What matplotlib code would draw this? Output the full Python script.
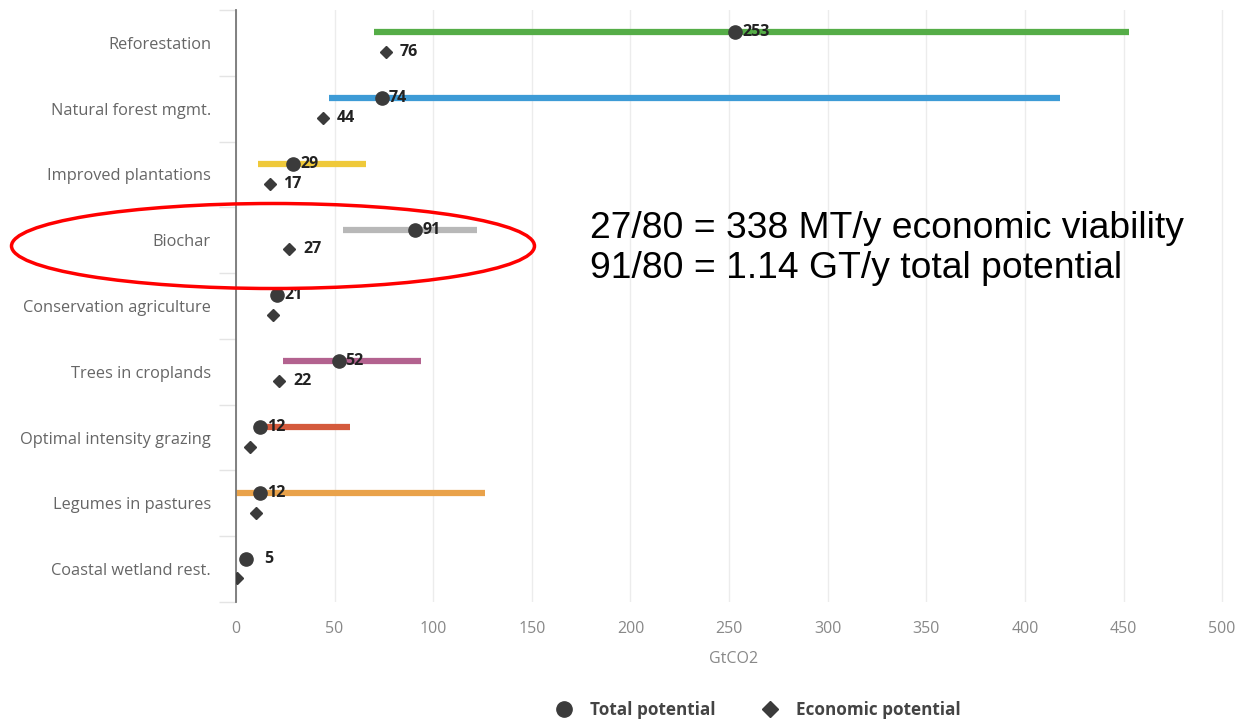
import matplotlib.pyplot as plt
from matplotlib import patches
from matplotlib.lines import Line2D

# Land-sector mitigation options, GtCO2
categories = ['Reforestation', 'Natural forest mgmt.', 'Improved plantations', 'Biochar',
              'Conservation agriculture', 'Trees in croplands', 'Optimal intensity grazing',
              'Legumes in pastures', 'Coastal wetland rest.']
range_low = [70, 47, 11, 54, None, 24, 13, 0, None]
range_high = [453, 418, 66, 122, None, 94, 58, 126, None]
total_potential = [253, 74, 29, 91, 21, 52, 12, 12, 5]
economic_potential = [76, 44, 17, 27, 19, 22, 7, 10, 0.5]
economic_labels = ['76', '44', '17', '27', '', '22', '', '', '']
bar_colors = ['#55ad47', '#3d9bd6', '#efc93a', '#b8b8b8', '#b8b8b8', '#b3628f',
              '#d45a3c', '#e9a24a', '#b8b8b8']

x_ticks = [0, 50, 100, 150, 200, 250, 300, 350, 400, 450, 500]

plt.rcParams['font.family'] = ['Open Sans', 'DejaVu Sans']

fig = plt.figure(figsize=(12.42, 7.22), dpi=100)
ax = fig.add_axes([236 / 1242, (722 - 602) / 722, (1232 - 236) / 1242, 592 / 722])

mark_color = '#3b3b3b'
rows = range(len(categories))
for i in rows:
    y_tot = i - 0.16
    y_eco = i + 0.14
    if range_low[i] is not None:
        ax.plot([range_low[i], range_high[i]], [y_tot, y_tot], color=bar_colors[i],
                lw=4.5, solid_capstyle='butt', zorder=2)
    ax.plot(total_potential[i], y_tot, 'o', color=mark_color, ms=9.5, zorder=3)
    ax.plot(economic_potential[i], y_eco, 'D', color=mark_color, ms=6.5, zorder=3)
    ax.annotate(str(total_potential[i]), (total_potential[i], y_tot), xytext=(5 if i < 8 else 13, 0),
                textcoords='offset points', va='center', ha='left', fontsize=11.5,
                fontweight='bold', color='#222222', zorder=4)
    if economic_labels[i]:
        ax.annotate(economic_labels[i], (economic_potential[i], y_eco), xytext=(10, 0),
                    textcoords='offset points', va='center', ha='left', fontsize=11.5,
                    fontweight='bold', color='#222222', zorder=4)

ax.set_xlim(0, 505)
ax.set_ylim(len(categories) - 0.5, -0.5)
ax.set_xticks(x_ticks)
ax.set_yticks(list(rows))
ax.set_yticklabels(categories)
ax.set_yticks([i + 0.5 for i in range(-1, len(categories))], minor=True)
ax.tick_params(axis='y', which='major', length=0, pad=18, labelsize=11.8, labelcolor='#666666')
ax.tick_params(axis='y', which='minor', length=12, color='#e4e4e4', width=1)
ax.tick_params(axis='x', length=0, pad=14, labelsize=11.5, labelcolor='#888888')
ax.grid(axis='x', color='#ececec', lw=1)
ax.set_axisbelow(True)
for side in ['top', 'right', 'bottom']:
    ax.spines[side].set_visible(False)
ax.spines['left'].set_color('#777777')
ax.spines['left'].set_linewidth(1.3)
ax.set_xlabel('GtCO2', fontsize=11.5, color='#888888', labelpad=10)

handles = [Line2D([], [], marker='o', ls='', color=mark_color, ms=11),
           Line2D([], [], marker='D', ls='', color=mark_color, ms=8)]
fig.legend(handles, ['Total potential', 'Economic potential'], loc='center',
           bbox_to_anchor=(0.607, 1 - 710 / 722), ncol=2, frameon=False, handletextpad=0.5,
           columnspacing=2.2, prop={'weight': 'bold', 'size': 12.3}, labelcolor='#444444')

# biochar callout
fig.add_artist(patches.Ellipse((273 / 1242, 1 - 246 / 722), 523 / 1242, 85 / 722,
                               transform=fig.transFigure, fill=False, edgecolor='#ff0000', lw=2.5))
fig.text(590 / 1242, 1 - 228 / 722, '27/80 = 338 MT/y economic viability', fontsize=26.8,
         family='Liberation Sans', va='center', ha='left', color='black')
fig.text(590 / 1242, 1 - 268 / 722, '91/80 = 1.14 GT/y total potential', fontsize=26.8,
         family='Liberation Sans', va='center', ha='left', color='black')

fig.savefig('out.png', dpi=100)
